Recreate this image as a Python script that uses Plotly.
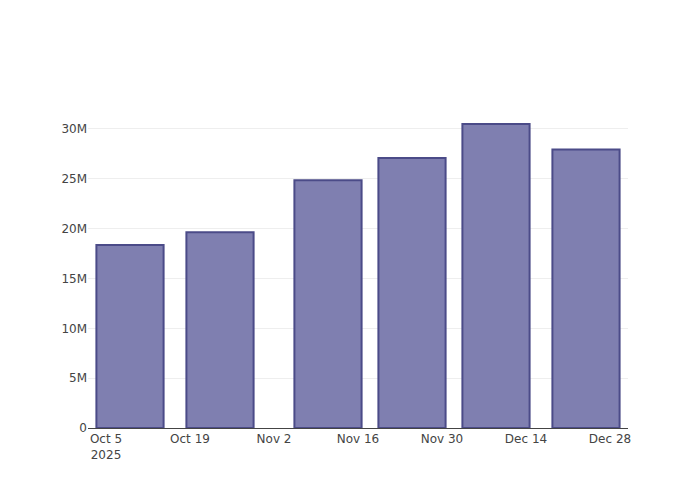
import plotly.graph_objects as go

# dates des barres et valeurs
dates = ['2025-10-09', '2025-10-24', '2025-11-11', '2025-11-25', '2025-12-09', '2025-12-24']
values = [18.35e6, 19.65e6, 24.85e6, 27.1e6, 30.5e6, 27.95e6]

fig = go.Figure(go.Bar(
    x=dates,
    y=values,
    marker=dict(color='#7f7fb0', line=dict(color='#4b4b88', width=2)),
))

fig.update_layout(
    template='plotly_white',
    width=700,
    height=500,
    showlegend=False,
    font=dict(family='DejaVu Sans', size=12, color='#444'),
    margin=dict(l=80, r=80, t=100, b=80, autoexpand=False),
)
fig.update_xaxes(showline=True, linecolor='#444', dtick=14 * 86400000, tick0='2025-10-05')
fig.update_yaxes(zeroline=False, gridcolor='#eee')

fig.write_html("out.html")
